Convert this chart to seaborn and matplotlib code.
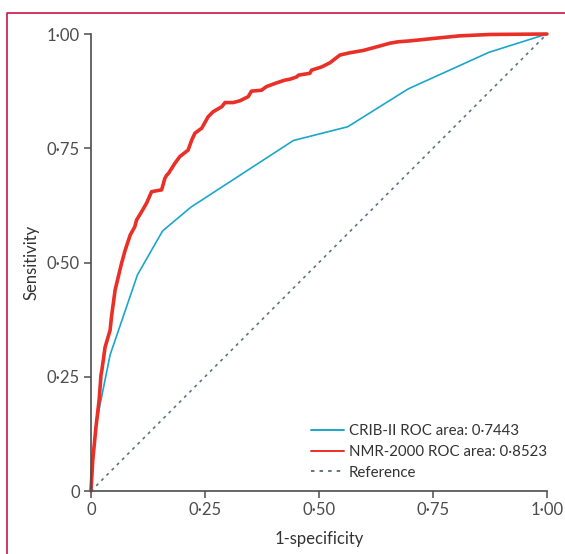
import numpy as np
import pandas as pd
import matplotlib.pyplot as plt
import seaborn as sns
from matplotlib.lines import Line2D

# Pontos (1-especificidade, sensibilidade)
crib_x = [0, 0.01, 0.042, 0.102, 0.157, 0.219, 0.444, 0.563, 0.696, 0.873, 1.0]
crib_y = [0, 0.14, 0.298, 0.473, 0.569, 0.621, 0.767, 0.797, 0.880, 0.960, 1.0]

nmr_x = [0, 0.004, 0.011, 0.018, 0.022, 0.024, 0.031, 0.042, 0.045, 0.053, 0.060,
         0.067, 0.075, 0.086, 0.096, 0.100, 0.111, 0.122, 0.133, 0.155, 0.162,
         0.166, 0.170, 0.184, 0.195, 0.199, 0.213, 0.221, 0.228, 0.243, 0.257,
         0.268, 0.287, 0.294, 0.312, 0.327, 0.345, 0.352, 0.374, 0.385, 0.407,
         0.425, 0.436, 0.451, 0.455, 0.480, 0.484, 0.506, 0.524, 0.546, 0.568,
         0.597, 0.627, 0.656, 0.674, 0.700, 0.758, 0.809, 0.875, 1.0]
nmr_y = [0, 0.068, 0.14, 0.20, 0.254, 0.265, 0.315, 0.352, 0.381, 0.44, 0.469,
         0.498, 0.527, 0.560, 0.578, 0.593, 0.611, 0.630, 0.655, 0.659, 0.684,
         0.691, 0.695, 0.717, 0.732, 0.735, 0.746, 0.768, 0.783, 0.794, 0.819,
         0.830, 0.841, 0.850, 0.850, 0.854, 0.863, 0.875, 0.877, 0.885, 0.893,
         0.899, 0.901, 0.906, 0.910, 0.914, 0.921, 0.928, 0.937, 0.954, 0.959,
         0.964, 0.972, 0.980, 0.983, 0.985, 0.991, 0.996, 0.999, 1.0]

ref_x = [0, 1]
ref_y = [0, 1]

labels = ['CRIB-II ROC area: 0·7443', 'NMR-2000 ROC area: 0·8523', 'Reference']
tick_vals = [0, 0.25, 0.5, 0.75, 1.0]
tick_labels = ['0', '0·25', '0·50', '0·75', '1·00']

sns.set_style('white')
plt.rcParams['font.family'] = ['Lato', 'DejaVu Sans']
plt.rcParams['text.color'] = '#333333'
plt.rcParams['axes.labelcolor'] = '#333333'
plt.rcParams['xtick.color'] = '#4d4d4d'
plt.rcParams['ytick.color'] = '#4d4d4d'

fig = plt.figure(figsize=(5.65, 5.54), dpi=100)
ax = fig.add_axes([0.161, 0.1137, 0.807, 0.8249])

df_crib = pd.DataFrame({'x': crib_x, 'y': crib_y})
df_nmr = pd.DataFrame({'x': nmr_x, 'y': nmr_y})
df_ref = pd.DataFrame({'x': ref_x, 'y': ref_y})

sns.lineplot(data=df_crib, x='x', y='y', sort=False, estimator=None, ax=ax,
             color='#1ba6cc', linewidth=1.2, label=labels[0])
sns.lineplot(data=df_nmr, x='x', y='y', sort=False, estimator=None, ax=ax,
             color='#ea2f27', linewidth=2.6, label=labels[1])
sns.lineplot(data=df_ref, x='x', y='y', sort=False, estimator=None, ax=ax,
             color='#5f7482', linewidth=1.2, linestyle=(0, (1.8, 2.6)), label=labels[2])
for ln in ax.lines:
    ln.set_clip_on(False)

ax.set_xlim(0, 1)
ax.set_ylim(0, 1)
ax.set_xticks(tick_vals)
ax.set_xticklabels(tick_labels, fontsize=12)
ax.set_yticks(tick_vals)
ax.set_yticklabels(tick_labels, fontsize=12)
ax.tick_params(axis='both', direction='out', length=5, width=1.1, pad=3,
               bottom=True, left=True)
ax.set_xlabel('1-specificity', fontsize=12, labelpad=9)
ax.set_ylabel('Sensitivity', fontsize=12, labelpad=5)

sns.despine(ax=ax)
for s in ['left', 'bottom']:
    ax.spines[s].set_color('#4d4d4d')
    ax.spines[s].set_linewidth(1.2)

leg = ax.legend(loc='lower right', bbox_to_anchor=(1.0, 0.025), frameon=False,
                fontsize=10.8, handlelength=2.2, handletextpad=0.3,
                labelspacing=0.45, borderpad=0, borderaxespad=0)
for txt in leg.get_texts():
    txt.set_color('#333333')
for h in leg.get_lines():
    h.set_linewidth(1.4)

# Moldura rosa (topo e esquerda)
bx = 6.5 / 565
by = 1 - 12.5 / 554
fig.add_artist(Line2D([bx, bx, 1.0], [0.0, by, by], transform=fig.transFigure,
                      color='#c8174a', linewidth=1.2))

plt.savefig('out.png', dpi=100)
